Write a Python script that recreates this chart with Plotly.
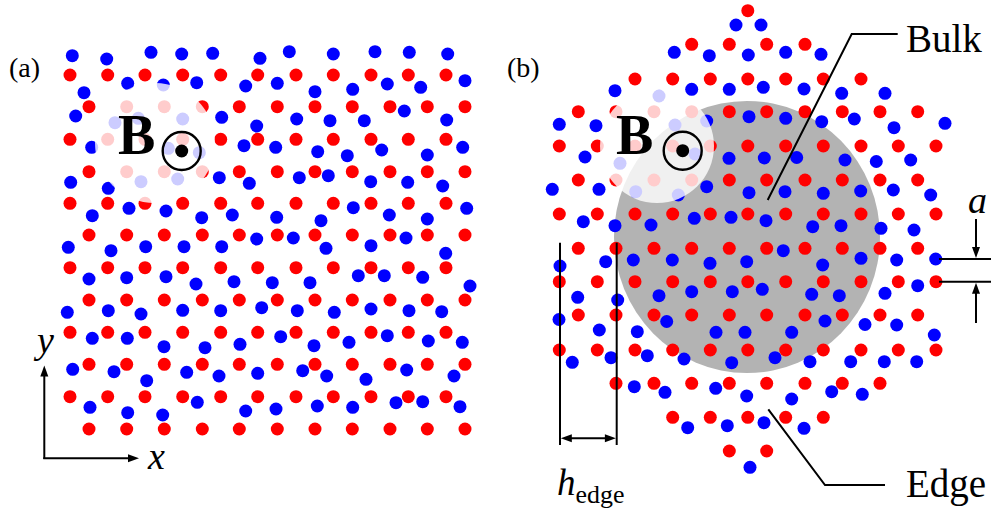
import plotly.graph_objects as go

# ---------------- panel (a): square patch ----------------
# red sublattice: row heights and the two alternating column sets
A_RED_ROW_Y = [75, 106.7, 139.3, 171.7, 203.3, 235, 267.7, 300, 332.3, 364.3, 396.7, 429]
A_RED_X_EVEN = [70, 107.7, 145, 182.7, 220.7, 257.7, 296, 333.3, 371, 408.3, 446]
A_RED_X_ODD = [89, 126.7, 164.3, 202.3, 239.3, 277.3, 315, 352.3, 390, 427.3, 465]

# blue sublattice (disordered), x and y
A_BLUE = [
    (72.3, 55.7), (106.7, 59), (151, 52.3), (181.7, 54), (212.7, 53.3), (260, 58.3),
    (84, 92.7), (127.7, 83.3), (163.3, 85), (196.7, 82.7), (245.7, 86),
    (75.7, 116), (115, 122.7), (138.3, 118.3), (182.7, 119), (221.7, 117.3), (256.7, 126),
    (91.7, 147.3), (168.3, 148.3), (199.3, 152.7), (244, 145.7),
    (70.7, 182.3), (108.3, 188.3), (141, 181.7), (177.7, 179), (219.3, 177.7), (249.3, 183.3),
    (92.3, 215.7), (129, 208.3), (166, 211), (201.7, 217.7), (232.3, 215),
    (256.7, 239),
    (289.3, 51.7), (333.3, 54), (375, 51.7), (409.3, 52.3), (447.7, 54),
    (277.3, 83.3), (315, 91.7), (352.7, 89.3), (387.3, 84), (420.7, 87.3), (465, 80.7),
    (296.7, 119), (330, 120.7), (364.3, 120.7), (404.3, 111), (446.7, 120),
    (275.7, 147.3), (317.7, 151.7), (347.3, 155.7), (381.7, 150), (427.3, 155), (462.7, 147.3),
    (299.3, 177.7), (328.3, 175.7), (370.7, 181.7), (407.7, 182.3), (442.7, 186),
    (276.7, 217.3), (321, 220.7), (353.3, 207.7), (389.3, 215), (427.3, 219), (466.7, 208.3),
    (293.3, 238), (406, 238),
    (68.3, 247.3), (111, 250.7), (145.7, 246.7), (184, 246.7), (221.7, 246.7),
    (89, 279), (126.7, 277.7), (166, 276.7), (196, 284), (234, 281.7), (272.3, 282.7),
    (67.3, 312.3), (108.3, 310.7), (141, 314), (182.7, 310.3), (220.7, 310.7), (261.7, 307.7),
    (92.3, 338.3), (127.3, 338.3), (164, 346.7), (205, 347.7), (240, 344.3),
    (72.7, 369.3), (114, 371.7), (146.7, 380.7), (186.7, 372.3), (219, 376), (257.7, 373.3),
    (90, 407.3), (127.7, 412.7), (162.7, 415), (197.3, 402.3), (245.7, 411),
    (326, 248.3), (371, 245.7), (445.7, 253.3),
    (310, 282.7), (358.3, 275.7), (384.3, 275.7), (422.7, 277.3), (470, 286),
    (297.3, 310.7), (334.3, 312.3), (371, 309), (409, 310.7), (441.7, 311.7),
    (280.7, 336.7), (314, 345.7), (349, 342.3), (387.3, 335.7), (428.3, 341), (462.3, 342.3),
    (302.7, 370.7), (326.7, 376), (366, 379.3), (406.7, 370), (454, 376),
    (276, 409), (317.3, 406), (352.7, 407.3), (396, 402.7), (422.7, 401.7), (460, 406.7),
]

# ---------------- panel (b): hexagonal flake ----------------
B_RED_ROWS = [
    (10.7, [747.8]),
    (44.3, [691.7, 729.3, 766.7, 805]),
    (79, [635, 672.7, 710.3, 747.8, 785.7, 823.3, 861]),
    (111.7, [578.3, 616, 654, 691.7, 729.3, 766.7, 805, 842.3, 880, 917.7]),
    (146, [559.3, 597.3, 635, 672.7, 710.3, 747.8, 785.7, 823.3, 861, 898.3, 936]),
    (180, [578.3, 616, 654, 691.7, 729.3, 766.7, 805, 842.3, 880, 917.7]),
    (214, [559.3, 597.3, 635, 672.7, 710.3, 747.8, 785.7, 823.3, 861, 898.3, 936]),
    (248.3, [578.3, 616, 654, 691.7, 729.3, 766.7, 805, 842.3, 880, 917.7]),
    (281.7, [559.3, 597.3, 635, 672.7, 710.3, 747.8, 785.7, 823.3, 861, 898.3, 936]),
    (315, [578.3, 616, 654, 691.7, 729.3, 766.7, 805, 842.3, 880, 917.7]),
    (350, [559.3, 597.3, 635, 672.7, 710.3, 747.8, 785.7, 823.3, 861, 898.3, 936]),
    (383.3, [616, 654, 691.7, 729.3, 766.7, 805, 842.3, 880]),
    (417.3, [672.7, 710.3, 747.8, 785.7, 823.3]),
    (451, [729.3, 766.7]),
]

B_BLUE = [
    (736, 25), (761, 25),
    (674.3, 52.3), (709.3, 55.7), (748.3, 55), (785.7, 52.3), (821, 54.3),
    (615, 90.7), (659, 96), (691.7, 89.3), (729.3, 89.3), (763.3, 87.3), (804, 89), (841.7, 93.3), (885, 93.3),
    (559.3, 124.3), (596, 125.7), (675, 125), (706.7, 121), (749, 116.7), (785.7, 118.3), (821.7, 121.7),
    (854.3, 119), (894, 127.7), (945, 123.3),
    (585, 157), (620, 163.3), (695, 154), (729, 158.3), (764.3, 158), (796.7, 157.5), (845, 160), (876.3, 161.5),
    (910.7, 160),
    (552.3, 189.3), (599, 189.3), (635.7, 191.7), (678.3, 195), (706.7, 186.7), (749, 192.7), (785, 191.7),
    (823.3, 193.3), (860.7, 191), (893.3, 190), (930.7, 195),
    (583.3, 221.7), (615, 225.7), (651, 225), (694.3, 218.3), (731, 217.3), (766, 220.7), (812.7, 226.7),
    (841, 225.7), (881, 228.3), (914, 230),
    (560, 266), (605.7, 261.7), (633.3, 260), (672.3, 260), (710, 263.3), (746.7, 261.7), (783.3, 250.7),
    (822.7, 265), (861, 258.3), (896.7, 260), (935.7, 259),
    (577.7, 297.3), (617.7, 300), (659, 295.7), (691.7, 291.7), (732.3, 291.7), (762.3, 289.3), (811.7, 294.3),
    (839.3, 295.7), (885, 293.3), (917.7, 285.7),
    (559, 319.5), (666.7, 321.5), (825, 321), (865, 324.5), (896.7, 325),
    (599.3, 330), (637.3, 331.7), (716, 332.3), (745, 332.3), (791.7, 332.3), (934.3, 335),
    (572.3, 362.3), (611, 357.7), (647.3, 355.7), (684, 359), (731.7, 362.7), (775, 357.7), (810, 361.7),
    (850.7, 361.7), (884.3, 361.7), (916.7, 361.7),
    (634.3, 386.7), (665, 392.3), (715.7, 388.3), (746.7, 396), (791.7, 399), (831.7, 391.7), (862.3, 394.3),
    (687.7, 427.7), (727.3, 425.7), (764, 422.7), (804, 428.3),
    (750, 467.3),
]

RED = "#ff0000"
BLUE = "#0000ff"
SERIF = "Liberation Serif"
DOT = 13

# assemble red coordinates
a_red_x, a_red_y = [], []
for i, y in enumerate(A_RED_ROW_Y):
    xs = A_RED_X_EVEN if i % 2 == 0 else A_RED_X_ODD
    a_red_x += xs
    a_red_y += [y] * len(xs)

b_red_x, b_red_y = [], []
for y, xs in B_RED_ROWS:
    b_red_x += xs
    b_red_y += [y] * len(xs)

fig = go.Figure()


def dots(xs, ys, color):
    fig.add_trace(go.Scatter(x=xs, y=ys, mode="markers", hoverinfo="skip",
                             marker=dict(size=DOT, color=color, line=dict(width=0))))


dots(a_red_x, a_red_y, RED)
dots([p[0] for p in A_BLUE], [p[1] for p in A_BLUE], BLUE)
dots(b_red_x, b_red_y, RED)
dots([p[0] for p in B_BLUE], [p[1] for p in B_BLUE], BLUE)

shapes = []
# bulk region of the flake
shapes.append(dict(type="circle", layer="below", x0=747 - 133, x1=747 + 133, y0=237 - 136, y1=237 + 136,
                   fillcolor="#b3b3b3", line=dict(width=0)))
# translucent veil behind the field symbol
for cx, cy, r in [(155, 143, 60), (657, 146, 57)]:
    shapes.append(dict(type="circle", layer="above", x0=cx - r, x1=cx + r, y0=cy - r, y1=cy + r,
                       fillcolor="rgba(255,255,255,0.8)", line=dict(width=0)))
# field pointing out of the plane
for cx, cy in [(181.7, 151), (682.7, 150.7)]:
    shapes.append(dict(type="circle", layer="above", x0=cx - 19, x1=cx + 19, y0=cy - 19, y1=cy + 19,
                       line=dict(color="black", width=2.4)))
    shapes.append(dict(type="circle", layer="above", x0=cx - 6.5, x1=cx + 6.5, y0=cy - 6.5, y1=cy + 6.5,
                       fillcolor="black", line=dict(width=0)))

LINE = dict(color="black", width=2)


def seg(x0, y0, x1, y1):
    shapes.append(dict(type="line", layer="above", x0=x0, x1=x1, y0=y0, y1=y1, line=LINE))


def head(xt, yt, dx, dy, length=11, half=4):
    # filled triangular arrowhead with its tip at (xt, yt) pointing along (dx, dy)
    bx, by = xt - dx * length, yt - dy * length
    px, py = -dy * half, dx * half
    path = f"M {xt} {yt} L {bx + px} {by + py} L {bx - px} {by - py} Z"
    shapes.append(dict(type="path", layer="above", path=path, fillcolor="black", line=dict(width=0)))


# coordinate axes of panel (a)
seg(44.3, 459, 44.3, 372)
head(44.3, 365.5, 0, -1)
seg(43.3, 458.3, 132, 458.3)
head(139, 458.3, 1, 0)
# edge width markers
for x in [560, 616.7]:
    seg(x, 242.7, x, 445)
seg(566, 438.3, 611, 438.3)
head(560.8, 438.3, -1, 0)
head(615.9, 438.3, 1, 0)
# leaders for the labels
shapes.append(dict(type="path", layer="above", path="M 897.7 34 L 851.7 34 L 767.7 200", line=LINE))
shapes.append(dict(type="path", layer="above", path="M 768.3 409.3 L 825 485 L 885 485", line=LINE))
# lattice-constant bars
for y in [259, 281.7]:
    seg(939, y, 991, y)
seg(976, 219, 976, 252)
head(976, 258, 0, 1)
seg(976, 323, 976, 289)
head(976, 282.7, 0, -1)

anns = []


def label(x, y, text, size, xanchor="center"):
    anns.append(dict(x=x, y=y, xref="x", yref="y", text=text, showarrow=False, xanchor=xanchor,
                     yanchor="middle", font=dict(family=SERIF, size=size, color="black")))


label(24, 67, "(a)", 28)
label(523, 67, "(b)", 28)
label(136, 135, "<b>B</b>", 56)
label(634.7, 135, "<b>B</b>", 56)
label(43.3, 340, "<i>y</i>", 38)
label(156, 456, "<i>x</i>", 38)
label(977, 200, "<i>a</i>", 38)
label(904, 38, "Bulk", 39, xanchor="left")
label(904, 484, "Edge", 39, xanchor="left")
label(590, 485, "<i>h</i><sub>edge</sub>", 37)

fig.update_layout(
    width=991, height=508, margin=dict(l=0, r=0, t=0, b=0),
    paper_bgcolor="white", plot_bgcolor="white", showlegend=False,
    xaxis=dict(range=[0, 991], visible=False, fixedrange=True),
    yaxis=dict(range=[508, 0], visible=False, fixedrange=True),
    shapes=shapes, annotations=anns,
)

fig.write_html("out.html")
